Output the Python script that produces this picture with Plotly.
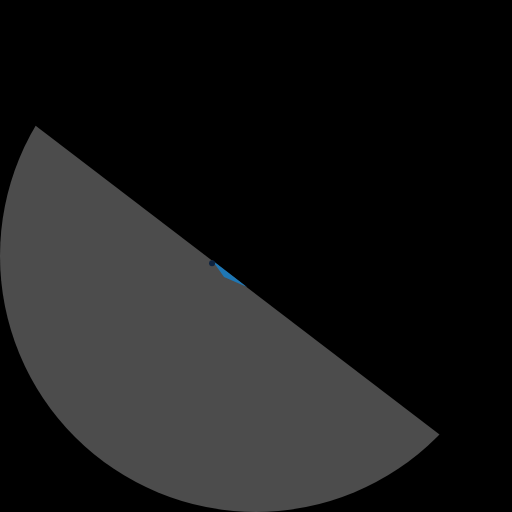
import plotly.graph_objects as go

# gray segment: chord ends on the rim, outer points beyond the rim get clipped
seg_theta = [149.4, 315.8, 315.8, 232.6, 149.4]
seg_r = [1.0, 1.0, 1.6, 1.6, 1.6]

# small blue wedge lying on the chord
wedge_theta = [185.2, 213.3, 253.8]
wedge_r = [0.1726, 0.1495, 0.126]

# dark point at the wedge tip
dot_theta = [189.5]
dot_r = [0.1740]

fig = go.Figure()
fig.add_trace(go.Scatterpolar(r=seg_r, theta=seg_theta, mode="lines", fill="toself",
                              fillcolor="#4c4c4c", line=dict(width=0), hoverinfo="skip"))
fig.add_trace(go.Scatterpolar(r=wedge_r, theta=wedge_theta, mode="lines", fill="toself",
                              fillcolor="#1f77b4", line=dict(width=0), hoverinfo="skip"))
fig.add_trace(go.Scatterpolar(r=dot_r, theta=dot_theta, mode="markers",
                              marker=dict(size=6, color="#0d2340"), hoverinfo="skip"))

fig.update_layout(
    width=512, height=512,
    margin=dict(l=0, r=0, t=0, b=0),
    paper_bgcolor="black",
    showlegend=False,
    polar=dict(
        domain=dict(x=[0, 1], y=[0, 1]),
        bgcolor="black",
        radialaxis=dict(range=[0, 1], visible=False, showgrid=False, showline=False),
        angularaxis=dict(visible=False, showgrid=False, showline=False),
    ),
)

fig.write_html("out.html", config={"displayModeBar": False},
               post_script="document.body.style.margin='0';document.body.style.background='black';")
